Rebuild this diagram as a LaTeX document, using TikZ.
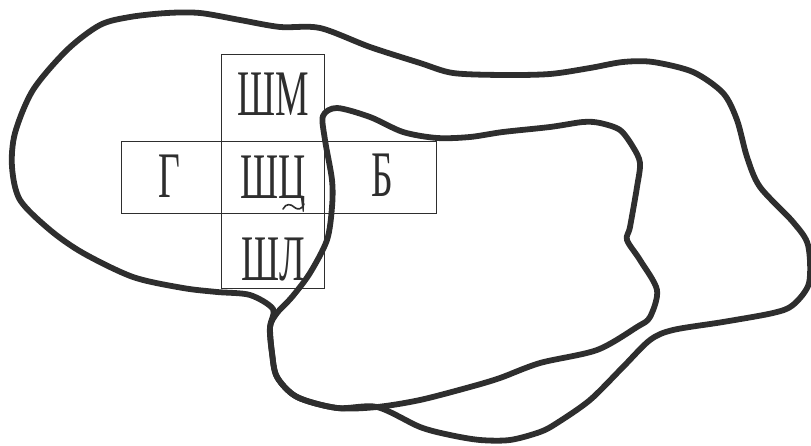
\documentclass[tikz,border=0pt]{standalone}
\usepackage{fontspec}
\newfontfamily\condfont[FakeStretch=0.58]{Liberation Serif}
\definecolor{ink}{HTML}{2E2E2E}
\begin{document}
\begin{tikzpicture}[x=1pt,y=-1pt,
  cell/.style={draw=ink,line width=1pt,inner sep=0pt,minimum width=102.6pt},
  lbl/.style={font=\condfont\fontsize{65}{70}\selectfont,inner sep=0pt,anchor=base,text=ink},
  blob/.style={draw=ink,line width=5.8pt,line join=round}]
\useasboundingbox (0,0) rectangle (811,446);
% cells
\node[cell,minimum height=86.7pt] (top) at (273,98.35) {};
\node[cell,minimum height=72.3pt] (mid) at (273,177.85) {};
\node[cell,minimum height=72.3pt,minimum width=100.7pt] (lft) at (171.35,177.85) {};
\node[cell,minimum height=72.3pt,minimum width=111.7pt] (rgt) at (380.15,177.85) {};
\node[cell,minimum height=74.3pt] (bot) at (273,251.15) {};
% labels
\node[lbl] (tShM) at (273,116) {ШМ};
\node[lbl] (tG) at (169,198) {Г};
\node[lbl] (tShC) at (273,199) {ШЦ};
\node[lbl] (tB) at (382,197) {Б};
\node[lbl] (tShL) at (273,280) {ШЛ};
% tilde under the last letter
\draw[ink,line width=1.6pt,line cap=round]
  (283,209) .. controls (286,203) and (291,204) .. (294,207)
  .. controls (297,210) and (302,210) .. (304,204);
% outer curve
\draw[blob] plot[smooth cycle,tension=0.5] coordinates {
 (167,13) (200,13) (240,20) (280,27) (320,28) (370,47) (420,63) (453,73)
 (503,75) (550,74) (590,68) (623,62) (653,62) (693,72) (723,93) (737,120)
 (747,157) (760,187) (793,222) (808,245) (809,283) (793,305) (773,313)
 (723,322) (673,330) (650,340) (623,367) (590,400) (557,423) (540,432)
 (510,440) (480,440) (450,435) (420,427) (377,407) (337,408) (297,397)
 (277,377) (272,353) (270,327) (273,309) (250,295) (217,292) (183,288)
 (133,277) (83,253) (50,230) (20,200) (12,167) (15,133) (33,90) (67,50)
 (100,25) (130,17)};
% inner curve
\draw[blob] plot[smooth cycle,tension=0.5] coordinates {
 (323,116) (337,108) (370,117) (403,132) (437,138) (470,137) (503,132)
 (550,127) (583,122) (600,123) (620,130) (633,147) (640,163) (637,187)
 (630,227) (627,240) (640,260) (657,290) (650,317) (637,327) (597,350)
 (540,363) (500,378) (470,387) (420,400) (377,407) (337,408) (297,397)
 (277,377) (272,353) (270,327) (277,313) (292,297) (310,273) (327,240)
 (332,207) (332,180) (325,140)};
\end{tikzpicture}
\end{document}
